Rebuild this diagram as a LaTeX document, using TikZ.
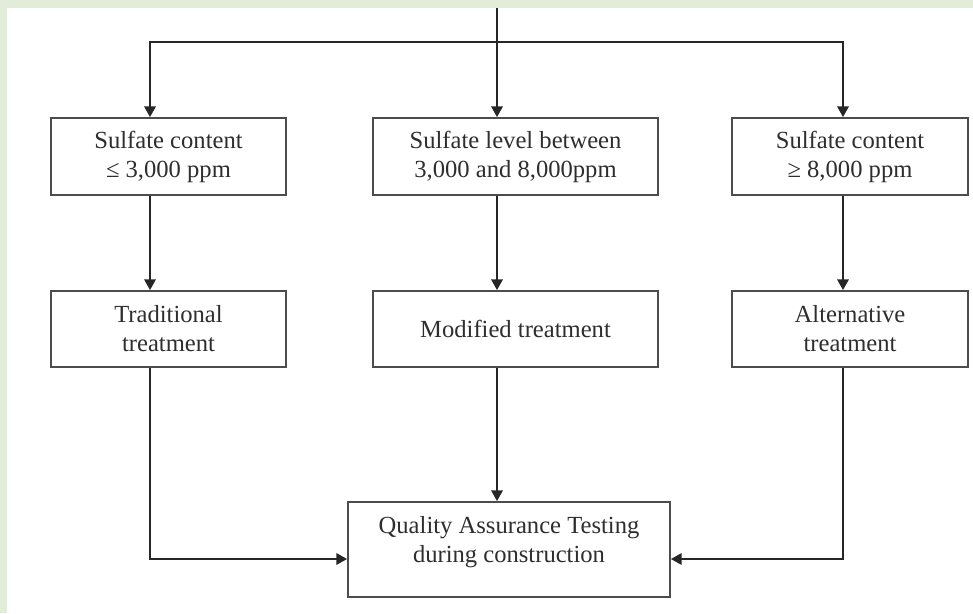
\documentclass[tikz,border=0pt]{standalone}
\usepackage{fontspec}
\setmainfont{Liberation Serif}
\usetikzlibrary{arrows.meta}
\definecolor{framegreen}{HTML}{E2EDD9}
\definecolor{inkgray}{HTML}{2E2E2E}

\begin{document}
\begin{tikzpicture}[
  font=\fontsize{14}{16.5}\selectfont,
  box/.style={draw=black!70,line width=1.1pt,fill=white,text=inkgray,
    align=center,inner sep=0pt},
  arr/.style={line width=0.9pt,draw=black!85,
    -{Triangle[length=6pt,width=6.5pt]}},
  wire/.style={line width=0.9pt,draw=black!85}]
% Page: green frame on the top and left, white sheet for the chart.
\fill[framegreen] (0,0) rectangle (19.46,12.26);
\fill[white] (0.14,0) rectangle (19.46,12.10);

% Upper row: the three sulfate ranges.
\node[box,minimum width=4.7cm,minimum height=1.54cm] (sc1) at (3.37,9.13)
  {Sulfate content\\≤ 3,000 ppm};
\node[box,minimum width=5.7cm,minimum height=1.54cm] (sc2) at (10.31,9.13)
  {Sulfate level between\\3,000 and 8,000ppm};
\node[box,minimum width=4.72cm,minimum height=1.54cm] (sc3) at (17.0,9.13)
  {Sulfate content\\≥ 8,000 ppm};

% Middle row: the treatment chosen for each range.
\node[box,minimum width=4.7cm,minimum height=1.52cm] (tr1) at (3.37,5.68)
  {Traditional\\treatment};
\node[box,minimum width=5.7cm,minimum height=1.52cm] (tr2) at (10.31,5.68)
  {Modified treatment};
\node[box,minimum width=4.72cm,minimum height=1.52cm] (tr3) at (17.0,5.68)
  {Alternative\\treatment};

% Bottom: common check; its text sits in the upper part of the box.
\node[box,minimum width=6.44cm,minimum height=1.9cm] (qa) at (10.18,1.27) {};
\node[text=inkgray,align=center,anchor=north] (qatext) at ([yshift=-0.18cm]qa.north)
  {Quality Assurance Testing\\during construction};

% Incoming line and the split to the three columns.
\coordinate (in) at (9.94,12.10);
\coordinate (split) at (9.94,11.42);
\draw[wire] (in) -- (split);
\draw[arr] (split) -| ([xshift=-0.37cm]sc1.north);
\draw[arr] (split) -- (sc2.north -| split);
\draw[arr] (split) -| ([xshift=-0.14cm]sc3.north);

% Range -> treatment, the arrows run left of the box centres.
\foreach \a/\b/\dx in {sc1/tr1/-0.37,sc2/tr2/-0.37,sc3/tr3/-0.14}
  \draw[arr] ([xshift=\dx cm]\a.south) -- ([xshift=\dx cm]\b.north);

% Treatments -> quality assurance.
\draw[arr] ([xshift=-0.37cm]tr1.south) |- ([yshift=-0.19cm]qa.west);
\draw[arr] (tr2.south -| split) -- (qa.north -| split);
\draw[arr] ([xshift=-0.14cm]tr3.south) |- ([yshift=-0.19cm]qa.east);
\end{tikzpicture}
\end{document}
